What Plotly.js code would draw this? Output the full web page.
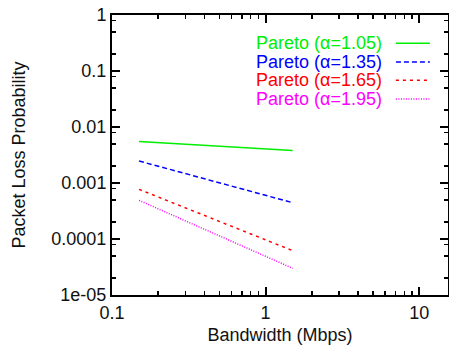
<!DOCTYPE html>
<html>
<head>
<meta charset="utf-8">
<script src="https://cdn.plot.ly/plotly-3.0.1.min.js"></script>
<style>
  html, body { margin: 0; padding: 0; background: #ffffff; }
  #plot { width: 449px; height: 347px; }
</style>
</head>
<body>
<div id="plot"></div>
<script>
// Packet loss probability vs bandwidth for Pareto on-off sources
const bandwidth = [0.15, 1.5];              // Mbps
const loss105 = [0.0055, 0.0038];
const loss135 = [0.00247, 0.000445];
const loss165 = [0.00077, 0.000062];
const loss195 = [0.00049, 0.00003];

const seriesNames = ['Pareto (\u03b1=1.05)', 'Pareto (\u03b1=1.35)', 'Pareto (\u03b1=1.65)', 'Pareto (\u03b1=1.95)'];
const seriesValues = [loss105, loss135, loss165, loss195];
const seriesColors = ['#00ee00', '#0000ff', '#ff0000', '#ff00ff'];
const seriesDash = ['solid', '5px,3px', '3px,4px', '1px,1.5px'];

const xTickVals = [0.1, 1, 10];
const xTickText = ['0.1', '1', '10'];
const yTickVals = [1e-5, 1e-4, 1e-3, 1e-2, 1e-1, 1];
const yTickText = ['1e-05', '0.0001', '0.001', '0.01', '0.1', '1'];
const xMinorVals = [0.2, 0.3, 0.4, 0.5, 0.6, 0.7, 0.8, 0.9, 2, 3, 4, 5, 6, 7, 8, 9];
const yMinorVals = [];
[1e-5, 1e-4, 1e-3, 1e-2, 1e-1].forEach(d => { yMinorVals.push(2 * d, 5 * d, 8 * d); });

const FONT = 'Liberation Sans, Arial, Helvetica, sans-serif';

const traces = seriesValues.map((vals, i) => ({
  x: bandwidth,
  y: vals,
  type: 'scatter',
  mode: 'lines',
  name: seriesNames[i],
  line: { color: seriesColors[i], width: 1.5, dash: seriesDash[i] },
  showlegend: false,
  hoverinfo: 'skip'
}));

// Key drawn inside the frame: right-aligned text block, line samples to its right
const keyTextX = 0.8065;
const keyLineX0 = 0.845, keyLineX1 = 0.946;
const keyRowY = [0.899, 0.832, 0.767, 0.70];
const keyRowStep = 14.3;   // annotation font size that sets the row pitch (1.3 em)

const keyText = seriesNames.map((name, i) =>
  '<span style="color:' + seriesColors[i] + ';font-size:18px">' + name + '</span>'
).join('<br>');

const annotations = [{
  xref: 'paper', yref: 'paper',
  x: keyTextX, y: (keyRowY[0] + keyRowY[3]) / 2,
  xanchor: 'right', yanchor: 'middle', align: 'right',
  borderpad: 0,
  text: keyText, showarrow: false,
  font: { family: FONT, size: keyRowStep, color: '#111111' }
}];

const shapes = seriesNames.map((name, i) => ({
  type: 'line', xref: 'paper', yref: 'paper',
  x0: keyLineX0, x1: keyLineX1, y0: keyRowY[i], y1: keyRowY[i],
  line: { color: seriesColors[i], width: 1.5, dash: seriesDash[i] }
}));

const axisCommon = {
  showgrid: false,
  zeroline: false,
  showline: true,
  linecolor: '#000000',
  linewidth: 2,
  mirror: 'allticks',
  ticks: 'inside',
  ticklen: 8,
  tickwidth: 2,
  tickcolor: '#000000',
  tickfont: { family: FONT, size: 18, color: '#111111' },
  tickmode: 'array'
};

const layout = {
  width: 449,
  height: 347,
  margin: { l: 112, r: 1, t: 15, b: 52 },
  paper_bgcolor: '#ffffff',
  plot_bgcolor: '#ffffff',
  font: { family: FONT, size: 18, color: '#111111' },
  xaxis: Object.assign({}, axisCommon, {
    type: 'log',
    range: [-1, Math.log10(15.4)],
    tickvals: xTickVals,
    ticktext: xTickText,
    minor: { tickmode: 'array', tickvals: xMinorVals, ticks: 'inside', ticklen: 4, tickwidth: 1.5, tickcolor: '#000000', showgrid: false },
    title: { text: 'Bandwidth (Mbps)', font: { family: FONT, size: 18, color: '#111111' }, standoff: 7 }
  }),
  yaxis: Object.assign({}, axisCommon, {
    type: 'log',
    range: [-5, 0],
    tickvals: yTickVals,
    ticktext: yTickText,
    minor: { tickmode: 'array', tickvals: yMinorVals, ticks: 'inside', ticklen: 4, tickwidth: 1.5, tickcolor: '#000000', showgrid: false },
    title: { text: 'Packet Loss Probability', font: { family: FONT, size: 18, color: '#111111' }, standoff: 21 }
  }),
  annotations: annotations,
  shapes: shapes,
  showlegend: false
};

Plotly.newPlot('plot', traces, layout, { displayModeBar: false, staticPlot: true });
</script>
</body>
</html>
